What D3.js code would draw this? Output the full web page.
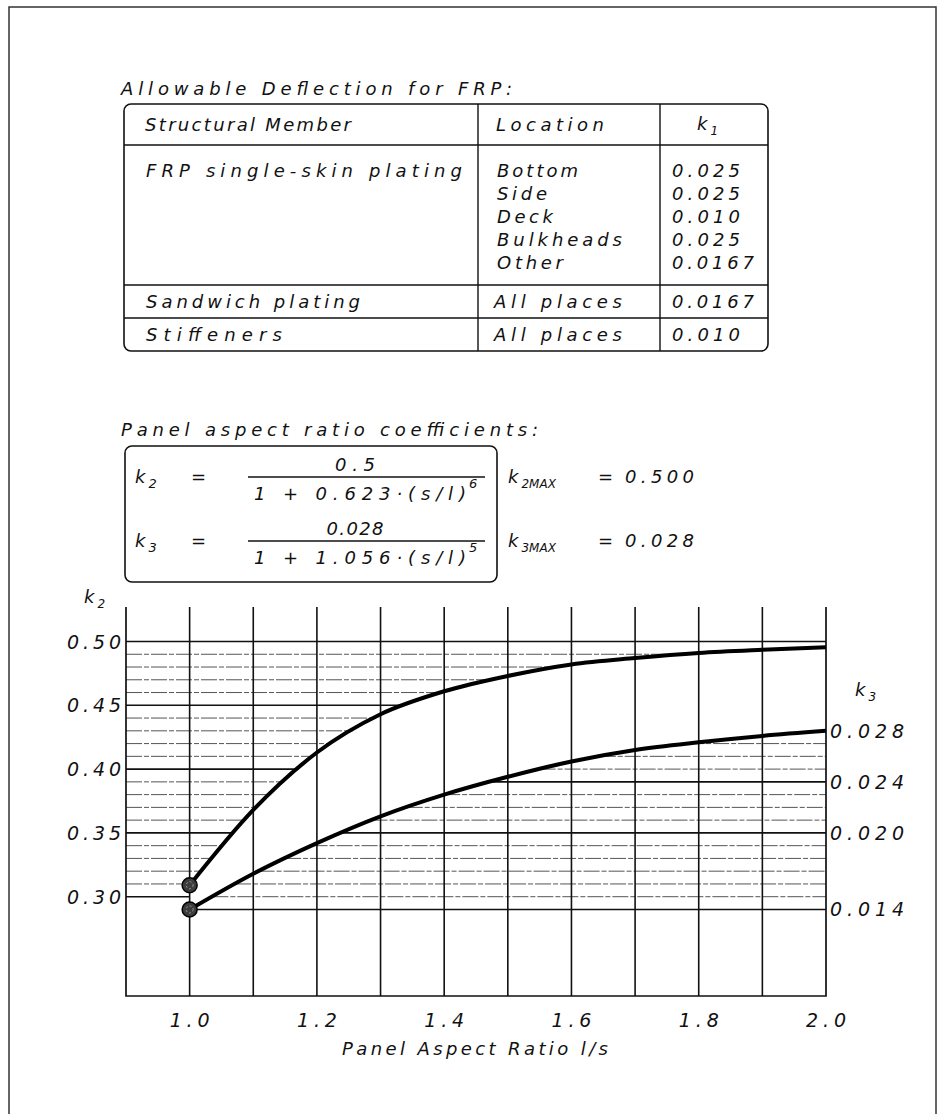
<!DOCTYPE html>
<html><head><meta charset="utf-8">
<script src="https://cdn.jsdelivr.net/npm/d3@7"></script>
<style>
html,body{margin:0;padding:0;background:#fff;}
svg text{font-family:"DejaVu Sans","Open Sans",sans-serif;font-style:oblique;font-weight:400;fill:#111;}
</style></head><body>
<svg id="c" width="941" height="1114"></svg>
<script>
// ---------------- data ----------------
const aspectRatios = [1.0, 1.1, 1.2, 1.3, 1.4, 1.5, 1.6, 1.7, 1.8, 1.9, 2.0];
const k2Values = [0.309, 0.368, 0.413, 0.443, 0.461, 0.473, 0.482, 0.487, 0.491, 0.4935, 0.4955];
const k3Values = [0.0140, 0.0168, 0.0192, 0.0213, 0.0230, 0.0244, 0.0256, 0.0265, 0.0271, 0.0276, 0.0280];
const xTickValues = [1.0, 1.2, 1.4, 1.6, 1.8, 2.0];
const xTickLabels = ["1.0", "1.2", "1.4", "1.6", "1.8", "2.0"];
const k2TickValues = [0.30, 0.35, 0.40, 0.45, 0.50];
const k2TickLabels = ["0.30", "0.35", "0.40", "0.45", "0.50"];
const k3TickValues = [0.014, 0.020, 0.024, 0.028];
const k3TickLabels = ["0.014", "0.020", "0.024", "0.028"];

const members = ["FRP single-skin plating", "Sandwich plating", "Stiffeners"];
const locations = [["Bottom", "Side", "Deck", "Bulkheads", "Other"], ["All places"], ["All places"]];
const k1Values = [["0.025", "0.025", "0.010", "0.025", "0.0167"], ["0.0167"], ["0.010"]];

// ---------------- layout ----------------
const svg = d3.select("#c");
const INK = "#111";
const FS = 18;

function txt(x, y, s, opt = {}) {
  const t = svg.append("text").attr("x", x).attr("y", y).text(s)
    .attr("font-size", opt.size || FS);
  if (opt.w) t.attr("textLength", opt.w).attr("lengthAdjust", "spacing");
  if (opt.anchor) t.attr("text-anchor", opt.anchor);
  return t;
}
function kLabel(x, y, sub, size, subSize) {
  const t = svg.append("text").attr("x", x).attr("y", y).attr("font-size", size);
  t.append("tspan").text("k");
  t.append("tspan").attr("dx", 3).attr("dy", 5).attr("font-size", subSize).text(sub);
  return t;
}

// outer frame
svg.append("path").attr("d", "M9,1120 V7 H936 V1120").attr("fill", "none")
  .attr("stroke", "#333").attr("stroke-width", 1.5);

// ---------- table ----------
txt(121, 95, "Allowable Deflection for FRP:", {w: 391, size: 18});
const T = {x0: 124, x1: 768, y0: 104, yHead: 145, ySep1: 285, ySep2: 318, y1: 351, c1: 478, c2: 660};
svg.append("rect").attr("x", T.x0).attr("y", T.y0).attr("width", T.x1 - T.x0).attr("height", T.y1 - T.y0)
  .attr("rx", 7).attr("fill", "none").attr("stroke", INK).attr("stroke-width", 1.6);
[T.yHead, T.ySep1, T.ySep2].forEach(y => svg.append("line").attr("x1", T.x0).attr("x2", T.x1)
  .attr("y1", y).attr("y2", y).attr("stroke", INK).attr("stroke-width", 1.4));
[T.c1, T.c2].forEach(x => svg.append("line").attr("x1", x).attr("x2", x)
  .attr("y1", T.y0).attr("y2", T.y1).attr("stroke", INK).attr("stroke-width", 1.4));

txt(145, 131, "Structural Member", {w: 206});
txt(496, 131, "Location", {w: 108});
kLabel(697, 130, "1", FS, 12);

const locW = {"Bottom": 81, "Side": 50, "Deck": 56, "Bulkheads": 125, "Other": 66, "All places": 128};
const valW = {"0.025": 68, "0.010": 68, "0.0167": 82};
const rowBase = [177, 308, 341];
const lineGap = 23;
const memberW = [316, 214, 136];
const bodySize = 18;
members.forEach((m, i) => {
  txt(146, rowBase[i], m, {w: memberW[i], size: bodySize});
  locations[i].forEach((l, j) => txt(i === 0 ? 497 : 494, rowBase[i] + j * lineGap, l, {w: locW[l], size: bodySize}));
  k1Values[i].forEach((v, j) => txt(672, rowBase[i] + j * lineGap, v, {w: valW[v], size: bodySize}));
});

// ---------- formulas ----------
txt(121, 436, "Panel aspect ratio coefficients:", {w: 417, size: 18});
svg.append("rect").attr("x", 125).attr("y", 446).attr("width", 372).attr("height", 136)
  .attr("rx", 7).attr("fill", "none").attr("stroke", INK).attr("stroke-width", 1.6);

function formulaRow(lineY, sub, num, numW, coef, pow, maxVal) {
  kLabel(135, lineY + 6, sub, 18, 13);
  txt(191, lineY + 6, "=", {w: 15});
  svg.append("line").attr("x1", 248).attr("x2", 485).attr("y1", lineY).attr("y2", lineY)
    .attr("stroke", INK).attr("stroke-width", 1.4);
  txt(355 - numW / 2, lineY - 6, num, {w: numW});
  txt(254, lineY + 23, "1  +  " + coef + "\u00b7(s/l)", {w: 212});
  txt(469, lineY + 11, pow, {size: 13});
  const m = svg.append("text").attr("x", 508).attr("y", lineY + 6).attr("font-size", 18);
  m.append("tspan").text("k");
  m.append("tspan").attr("dx", 3).attr("dy", 5).attr("font-size", 12).text(sub + "MAX");
  txt(598, lineY + 6, "=", {w: 15});
  txt(625, lineY + 6, maxVal, {w: 69});
}
formulaRow(477, "2", "0.5", 40, "0.623", "6", "0.500");
formulaRow(541, "3", "0.028", 57, "1.056", "5", "0.028");

// ---------- chart ----------
const plotTop = 607, plotBottom = 996;
const x = d3.scaleLinear().domain([0.9, 2.0]).range([126, 826]);
const yK2 = d3.scaleLinear().domain([0.30, 0.50]).range([896.7, 641.5]);
const yK3 = d3.scaleLinear().domain([0.014, 0.028]).range([yK2(0.29), yK2(0.43)]);

const g = svg.append("g");

function crossX(vals, v) {
  for (let i = 0; i < vals.length - 1; i++) {
    if ((vals[i] - v) * (vals[i + 1] - v) <= 0 && vals[i] !== vals[i + 1]) {
      const t = (v - vals[i]) / (vals[i + 1] - vals[i]);
      return aspectRatios[i] + t * (aspectRatios[i + 1] - aspectRatios[i]);
    }
  }
  return null;
}
const near = (a, b) => Math.abs(a - b) < 1e-6;
function hline(x1, x2, y, major) {
  g.append("line").attr("x1", x(x1)).attr("x2", x(x2)).attr("y1", y).attr("y2", y)
    .attr("stroke", major ? INK : "#555").attr("stroke-width", major ? 1.6 : 1)
    .attr("stroke-dasharray", major ? null : "16,2,5,2");
}
// k2 grid: from left border to the k2 curve
d3.range(30, 51).map(v => v / 100).forEach(v => {
  let end;
  if (v <= k2Values[0]) end = aspectRatios[0];
  else if (v >= d3.max(k2Values)) end = 2.0;
  else end = crossX(k2Values, v);
  const major = k2TickValues.some(t => near(t, v));
  hline(0.9, end, yK2(v), major);
});
// k3 grid: from the k3 curve to the right border
d3.range(14, 29).map(v => v / 1000).forEach(v => {
  if (v >= d3.max(k3Values)) return;
  const start = v <= k3Values[0] ? aspectRatios[0] : crossX(k3Values, v);
  const major = k3TickValues.some(t => near(t, v));
  hline(start, 2.0, yK3(v), major);
});

// vertical grid
d3.range(10, 20).map(v => v / 10).forEach(v => {
  g.append("line").attr("x1", x(v)).attr("x2", x(v)).attr("y1", plotTop).attr("y2", plotBottom)
    .attr("stroke", INK).attr("stroke-width", 1.6);
});
// border (left, bottom, right)
g.append("path").attr("d", `M${x(0.9)},${plotTop} V${plotBottom} H${x(2.0)} V${plotTop}`)
  .attr("fill", "none").attr("stroke", INK).attr("stroke-width", 1.7);

// curves
const pts2 = aspectRatios.map((a, i) => [a, k2Values[i]]);
const pts3 = aspectRatios.map((a, i) => [a, k3Values[i]]);
g.append("path").attr("d", d3.line().x(d => x(d[0])).y(d => yK2(d[1])).curve(d3.curveMonotoneX)(pts2))
  .attr("fill", "none").attr("stroke", "#000").attr("stroke-width", 4);
g.append("path").attr("d", d3.line().x(d => x(d[0])).y(d => yK3(d[1])).curve(d3.curveMonotoneX)(pts3))
  .attr("fill", "none").attr("stroke", "#000").attr("stroke-width", 4);
// start markers
[[aspectRatios[0], yK2(k2Values[0])], [aspectRatios[0], yK3(k3Values[0])]].forEach(p => {
  g.append("circle").attr("cx", x(p[0])).attr("cy", p[1]).attr("r", 7.5)
    .attr("fill", "#3c3c3c").attr("stroke", "#000").attr("stroke-width", 1.5);
  g.append("circle").attr("cx", x(p[0])).attr("cy", p[1]).attr("r", 3.5)
    .attr("fill", "none").attr("stroke", "#999").attr("stroke-width", 1).attr("stroke-dasharray", "2,2");
});

// axis labels
k2TickValues.forEach((v, i) => txt(121, yK2(v) + 7, k2TickLabels[i], {anchor: "end", size: 19, w: 54}));
k3TickValues.forEach((v, i) => txt(830, yK3(v) + 7, k3TickLabels[i], {size: 19, w: 74}));
xTickValues.forEach((v, i) => txt(x(v) - 20, 1027, xTickLabels[i], {size: 19, w: 40}));
txt(342, 1055, "Panel Aspect Ratio l/s", {size: 18, w: 266});
kLabel(84, 603, "2", 18, 12);
kLabel(855, 696, "3", 18, 12);
</script>
</body></html>
